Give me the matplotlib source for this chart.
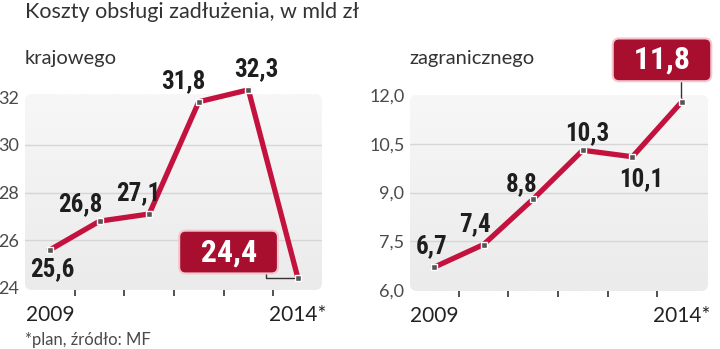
import numpy as np
import matplotlib
matplotlib.use("Agg")
import matplotlib.pyplot as plt
from matplotlib import font_manager
from matplotlib.patches import FancyBboxPatch
from matplotlib.colors import LinearSegmentedColormap

# dane (mld zł)
lata = [2009, 2010, 2011, 2012, 2013, 2014]
etykiety_lat = ["2009", "", "", "", "", "2014*"]
krajowego = [25.6, 26.8, 27.1, 31.8, 32.3, 24.4]
zagranicznego = [6.7, 7.4, 8.8, 10.3, 10.1, 11.8]
ticks_kraj = [24, 26, 28, 30, 32]
ticks_zagr = [6.0, 7.5, 9.0, 10.5, 12.0]

# przesunięcia podpisów wartości (pt), ostatni punkt ma ramkę
off_kraj = [(1.5, -14), (-14, 12), (-8, 15), (-11.5, 14.5), (6, 15)]
off_zagr = [(-2, 15), (-6, 14.5), (-8, 11), (3, 12), (6.5, -16)]

CZERWONY = "#c4123f"
RAMKA = "#a80f2e"

dostepne = {f.name for f in font_manager.fontManager.ttflist}
def pierwszy(*nazwy):
    for n in nazwy:
        if n in dostepne:
            return n
    return "DejaVu Sans"

LEKKI = pierwszy("Lato", "Roboto", "Open Sans")
WASKI = pierwszy("Roboto Condensed", "Liberation Sans Narrow", "DejaVu Sans")

fig = plt.figure(figsize=(7.2, 3.49), dpi=100)
W, H = 720, 349

def os_px(x0, y0, x1, y1):
    return fig.add_axes([x0 / W, 1 - y1 / H, (x1 - x0) / W, (y1 - y0) / H])

gradient = LinearSegmentedColormap.from_list("tlo", ["#ebebeb", "#f7f7f7"])

def panel(ax, wartosci, ticks, ylim, xlim, fmt, offsety, tekst_off, relpos, w_px, h_px):
    x = np.arange(len(wartosci))
    ax.set_xlim(*xlim)
    ax.set_ylim(*ylim)
    ax.patch.set_visible(False)
    for s in ax.spines.values():
        s.set_visible(False)

    tlo = FancyBboxPatch((0, 0), 1, 1, boxstyle="round,pad=0,rounding_size=0.025",
                         transform=ax.transAxes, mutation_aspect=w_px / h_px,
                         facecolor="#f1f1f1", edgecolor="none", zorder=0)
    ax.add_patch(tlo)
    im = ax.imshow(np.linspace(0, 1, 100).reshape(-1, 1), cmap=gradient, aspect="auto",
                   extent=[xlim[0], xlim[1], ylim[0], ylim[1]], origin="lower", zorder=0.5)
    im.set_clip_path(tlo)
    ax.set_xlim(*xlim)
    ax.set_ylim(*ylim)

    for t in ticks[1:-1]:
        ax.axhline(t, color="#d6d6d6", lw=1, zorder=1)

    ax.set_yticks(ticks)
    ax.set_yticklabels([fmt(t) for t in ticks], fontfamily=LEKKI,
                       fontsize=13, color="#4a4a4a")
    ax.tick_params(axis="y", length=0, pad=4)

    ax.set_xticks(x)
    ax.set_xticklabels(etykiety_lat, fontfamily=LEKKI, fontsize=15, color="#222222")
    ax.tick_params(axis="x", length=0, pad=11)
    ax.set_xticks(x[:-1] + 0.5, minor=True)
    ax.tick_params(axis="x", which="minor", length=4, width=1.2, color="#333333", direction="out")

    ax.plot(x, wartosci, color=CZERWONY, lw=3.8, zorder=3, clip_on=False,
            solid_joinstyle="miter")
    ax.plot(x, wartosci, ls="none", marker="s", ms=5, mfc="#555555", mec="white",
            mew=1, zorder=4, clip_on=False)

    for xi, v, (dx, dy) in zip(x[:-1], wartosci[:-1], offsety):
        ax.annotate(f"{v:.1f}".replace(".", ","), (xi, v), xytext=(dx, dy),
                    textcoords="offset points", ha="center", va="center",
                    fontfamily=WASKI, fontstretch="condensed", fontweight="bold",
                    fontsize=18, color="#1e1e1e", zorder=5, annotation_clip=False)

    ax.annotate("  " + f"{wartosci[-1]:.1f}".replace(".", ",") + "  ", (x[-1], wartosci[-1]),
                xytext=tekst_off, textcoords="offset points", ha="center", va="center",
                fontfamily=WASKI, fontstretch="condensed", fontweight="bold",
                fontsize=23, color="white", zorder=6, annotation_clip=False,
                bbox=dict(boxstyle="round,pad=0.2,rounding_size=0.2", fc=RAMKA,
                          ec="#f2c6cd", lw=1.5),
                arrowprops=dict(arrowstyle="-", color="#333333", lw=1,
                                shrinkA=0, shrinkB=3, relpos=relpos,
                                connectionstyle="angle,angleA=-90,angleB=180,rad=0"))

ax1 = os_px(25, 94, 322, 290)
panel(ax1, krajowego, ticks_kraj, (23.916, 32.126), (-0.504, 5.484),
      lambda t: f"{t:.0f}", off_kraj, (-50, 19), (0.93, 0), 297, 196)

ax2 = os_px(410, 95, 708, 291)
panel(ax2, zagranicznego, ticks_zagr, (5.97, 12.0), (-0.484, 5.524),
      lambda t: f"{t:.1f}".replace(".", ","), off_zagr, (-14.4, 30), (0.72, 0), 298, 196)

fig.text(25 / W, 1 - 2 / H, "Koszty obsługi zadłużenia, w mld zł", ha="left", va="top",
         fontfamily=LEKKI, fontsize=15.5, color="#333333")
fig.text(25 / W, 1 - 50 / H, "krajowego", ha="left", va="top",
         fontfamily=LEKKI, fontsize=14.5, color="#333333")
fig.text(409 / W, 1 - 50 / H, "zagranicznego", ha="left", va="top",
         fontfamily=LEKKI, fontsize=14.5, color="#333333")
fig.text(25 / W, 1 - 332 / H, "*plan, źródło: MF", ha="left", va="top",
         fontfamily=LEKKI, fontsize=12, color="#4a4a4a")

fig.savefig("out.png", dpi=100, facecolor="white")
